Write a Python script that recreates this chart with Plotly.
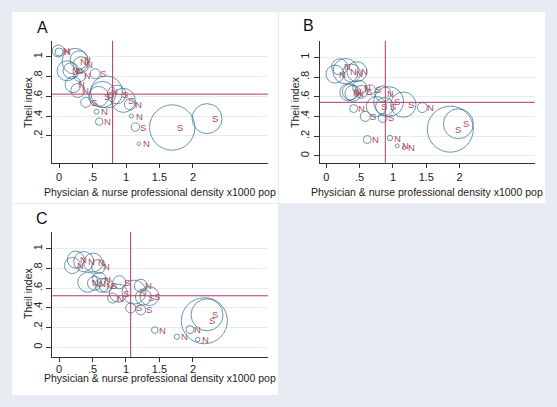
import plotly.graph_objects as go

# ---------------- data ----------------
# Panel A
a_x = [-0.01, 0.00, 0.24, 0.30, 0.33, 0.12, 0.18, 0.31, 0.54, 0.21, 0.28, 0.40, 0.56, 0.60,
       0.59, 0.65, 0.71, 0.86, 0.96, 1.06, 1.08, 1.14, 1.19, 1.69, 2.21]
a_y = [1.06, 1.05, 0.955, 0.97, 0.92, 0.86, 0.86, 0.81, 0.83, 0.72, 0.66, 0.54, 0.445, 0.345,
       0.60, 0.62, 0.645, 0.62, 0.56, 0.52, 0.40, 0.29, 0.12, 0.285, 0.375]
a_w = [3.6, 1.6, 16.9, 8.1, 6.4, 10.0, 6.4, 3.6, 2.5, 6.4, 4.9, 2.5, 0.6, 1.4,
       10.0, 17.0, 25.6, 8.6, 14.4, 3.2, 0.4, 1.8, 0.3, 51.5, 22.5]
a_lab = ["N", "N", "N", "N", "N", "N", "N", "N", "S", "N", "N", "S", "N", "N",
         "S", "S", "N", "S", "S", "N", "N", "S", "N", "S", "S"]

# Panel B
b_x = [0.13, 0.20, 0.29, 0.375, 0.46, 0.33, 0.36, 0.40, 0.52, 0.50, 0.66, 0.85, 0.935,
       0.75, 0.875, 1.155, 1.44, 0.41, 0.585, 0.845, 0.615, 0.955, 1.065, 1.165, 1.86, 1.98]
b_y = [0.83, 0.905, 0.86, 0.84, 0.855, 0.645, 0.65, 0.635, 0.65, 0.695, 0.67, 0.63, 0.55,
       0.50, 0.50, 0.52, 0.49, 0.48, 0.40, 0.385, 0.165, 0.18, 0.10, 0.08, 0.27, 0.325]
b_w = [8.1, 6.4, 16.0, 8.1, 10.0, 7.2, 6.4, 6.4, 4.2, 4.9, 2.5, 6.4, 22.5,
       10.0, 8.1, 16.0, 2.5, 1.6, 2.5, 2.0, 1.6, 0.7, 0.4, 0.3, 53.0, 22.5]
b_lab = ["N", "N", "N", "N", "N", "N", "N", "N", "S", "N", "S", "N", "S",
         "S", "S", "S", "N", "N", "S", "S", "N", "N", "N", "N", "S", "S"]

# Panel C
c_x = [0.25, 0.20, 0.37, 0.51, 0.59, 0.43, 0.53, 0.60, 0.64, 0.70, 0.80, 0.90, 0.885,
       1.12, 1.22, 1.26, 1.35, 1.07, 1.22, 1.43, 1.76, 1.955, 2.07, 2.17, 2.21]
c_y = [0.89, 0.83, 0.87, 0.86, 0.82, 0.66, 0.65, 0.69, 0.63, 0.63, 0.50, 0.66, 0.55,
       0.56, 0.625, 0.51, 0.52, 0.40, 0.38, 0.175, 0.107, 0.18, 0.08, 0.27, 0.33]
c_w = [7.2, 6.4, 10.0, 9.0, 4.9, 10.0, 4.9, 4.9, 4.9, 4.9, 2.5, 4.2, 8.1,
       14.4, 4.2, 6.4, 9.0, 2.5, 2.5, 1.1, 0.7, 1.6, 0.5, 53.0, 25.6]
c_lab = ["N", "N", "N", "N", "N", "N", "N", "N", "N", "S", "N", "S", "S",
         "S", "N", "S", "S", "S", "S", "N", "N", "N", "N", "S", "S"]

# reference lines (means)
ref_x = [0.80, 0.885, 1.07]
ref_y = [0.623, 0.543, 0.523]

panel_letters = ["A", "B", "C"]
x_tickvals = [0, 0.5, 1, 1.5, 2]
x_ticktext = ["0", ".5", "1", "1.5", "2"]
y_tickvals_a = [0.2, 0.4, 0.6, 0.8, 1.0]
y_ticktext_a = [".2", ".4", ".6", ".8", "1"]
y_tickvals_bc = [0, 0.2, 0.4, 0.6, 0.8, 1.0]
y_ticktext_bc = ["0", ".2", ".4", ".6", ".8", "1"]
x_title = "Physician & nurse professional density x1000 pop"
y_title = "Theil index"

# ---------------- styling / layout ----------------
W, H = 557, 407
BG = "#E7ECF3"
CIRC = "#2C6C8E"
LAB = "#B04E5C"
REF = "#B5385E"
GRID = "#E6ECF1"
FONT = "Liberation Sans, Arial, sans-serif"

def px(x):
    return x / W

def py(y):
    return 1 - y / H

panels = [
    dict(xs=a_x, ys=a_y, ws=a_w, labs=a_lab, xd=(52, 268), yd=(40.7, 163),
         xr=(-0.105, 3.12), yr=(-0.074, 1.164), yt=(y_tickvals_a, y_ticktext_a),
         rect=(12, 12, 278, 203), letter=(42, 27), xt=(160, 192), ytl=(28, 102), so=0),
    dict(xs=b_x, ys=b_y, ws=b_w, labs=b_lab, xd=(319.7, 534.7), yd=(40.7, 162.7),
         xr=(-0.099, 3.125), yr=(-0.071, 1.17), yt=(y_tickvals_bc, y_ticktext_bc),
         rect=(279, 12, 545, 203), letter=(308, 26), xt=(427, 192), ytl=(295, 102), so=0),
    dict(xs=c_x, ys=c_y, ws=c_w, labs=c_lab, xd=(52.3, 268), yd=(232, 357.3),
         xr=(-0.1, 3.12), yr=(-0.101, 1.17), yt=(y_tickvals_bc, y_ticktext_bc),
         rect=(12, 204, 278, 395), letter=(42, 219), xt=(160, 378), ytl=(28, 293), so=-3),
]

fig = go.Figure()
shapes = []
annotations = []
SIZEREF = 0.05

for i, p in enumerate(panels):
    k = "" if i == 0 else str(i + 1)
    xa, ya = "x" + k, "y" + k
    x0, y0, x1, y1 = p["rect"]
    shapes.append(dict(type="rect", xref="paper", yref="paper", layer="below",
                       x0=px(x0), x1=px(x1), y0=py(y1), y1=py(y0),
                       fillcolor="white", line=dict(width=0)))
    fig.add_trace(go.Scatter(
        x=p["xs"], y=p["ys"], mode="markers", xaxis=xa, yaxis=ya,
        marker=dict(size=p["ws"], sizemode="area", sizeref=SIZEREF,
                    color="rgba(0,0,0,0)", line=dict(color=CIRC, width=1)),
        hoverinfo="skip", showlegend=False))
    for xv, yv, lb in zip(p["xs"], p["ys"], p["labs"]):
        annotations.append(dict(x=xv, y=yv, xref=xa, yref=ya, text=lb, showarrow=False,
                                xanchor="center", yanchor="middle", xshift=8,
                                font=dict(family=FONT, size=9.5, color=LAB)))
    # reference lines
    shapes.append(dict(type="line", xref=xa, yref=ya + " domain", x0=ref_x[i], x1=ref_x[i],
                       y0=0, y1=1, line=dict(color=REF, width=1)))
    shapes.append(dict(type="line", xref=xa + " domain", yref=ya, x0=0, x1=1,
                       y0=ref_y[i], y1=ref_y[i], line=dict(color=REF, width=1)))
    axx = dict(domain=[px(p["xd"][0]), px(p["xd"][1])], range=list(p["xr"]),
               anchor=ya, tickvals=x_tickvals, ticktext=x_ticktext, showgrid=False,
               zeroline=False, showline=True, linecolor="#333333", linewidth=1,
               ticks="outside", ticklen=4, tickcolor="#333333",
               ticklabelstandoff=p["so"],
               tickfont=dict(family=FONT, size=11, color="#222222"))
    axy = dict(domain=[py(p["yd"][1]), py(p["yd"][0])], range=list(p["yr"]),
               anchor=xa, tickvals=p["yt"][0], ticktext=p["yt"][1], showgrid=True,
               gridcolor=GRID, gridwidth=1, zeroline=False, showline=True,
               linecolor="#333333", linewidth=1, ticks="outside", ticklen=5,
               tickcolor="#333333", tickangle=-90,
               tickfont=dict(family=FONT, size=11, color="#222222"))
    fig.layout["xaxis" + k] = axx
    fig.layout["yaxis" + k] = axy
    annotations.append(dict(x=px(p["letter"][0]), y=py(p["letter"][1]), xref="paper", yref="paper",
                            text=panel_letters[i], showarrow=False, xanchor="center", yanchor="middle",
                            font=dict(family=FONT, size=16, color="#111111")))
    annotations.append(dict(x=px(p["xt"][0]), y=py(p["xt"][1]), xref="paper", yref="paper",
                            text=x_title, showarrow=False, xanchor="center", yanchor="middle",
                            font=dict(family=FONT, size=10.5, color="#222222")))
    annotations.append(dict(x=px(p["ytl"][0]), y=py(p["ytl"][1]), xref="paper", yref="paper",
                            text=y_title, showarrow=False, xanchor="center", yanchor="middle",
                            textangle=-90,
                            font=dict(family=FONT, size=10.5, color="#222222")))

fig.update_layout(width=W, height=H, autosize=False, margin=dict(l=0, r=0, t=0, b=0),
                  paper_bgcolor=BG, plot_bgcolor="white", shapes=shapes,
                  annotations=annotations, showlegend=False)

fig.write_html("out.html", config={"displayModeBar": False},
               post_script="document.body.style.margin='0';document.body.style.overflow='hidden';")
